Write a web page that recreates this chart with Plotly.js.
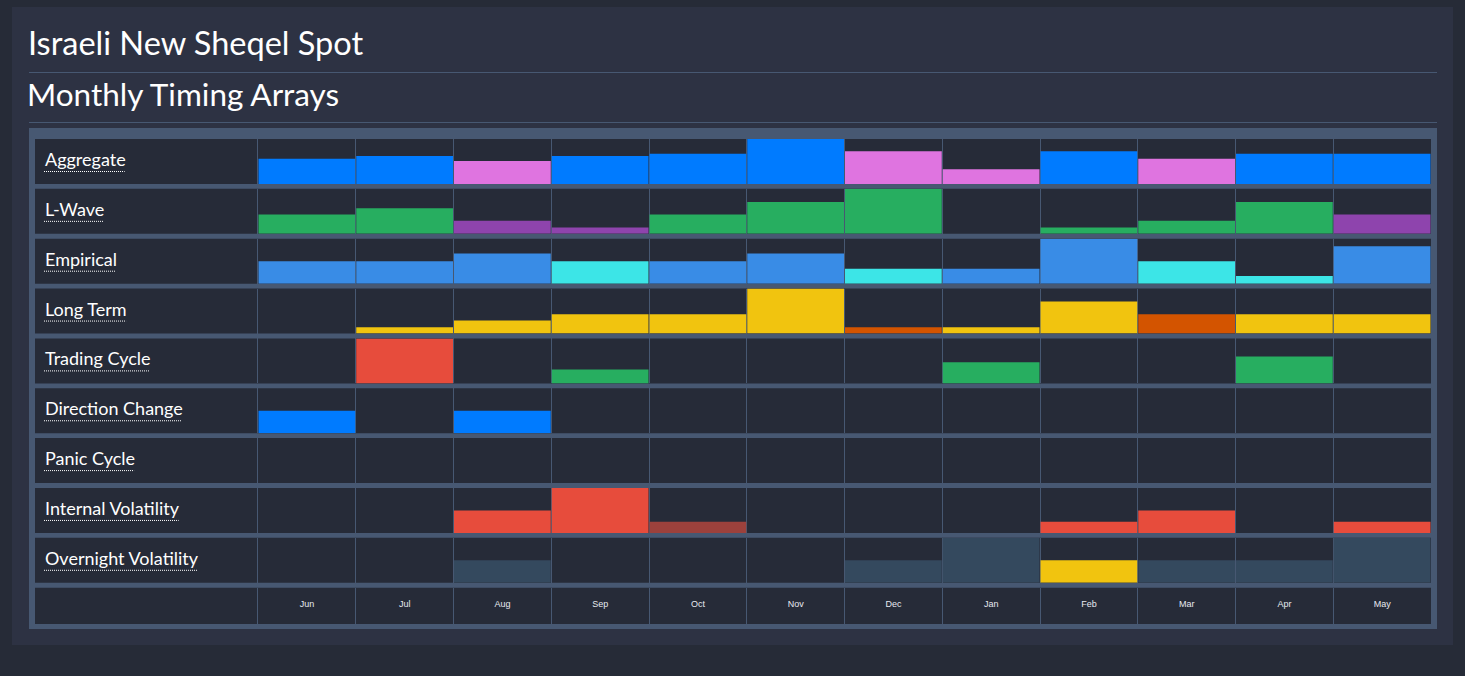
<!DOCTYPE html>
<html><head><meta charset="utf-8">
<script src="https://cdn.plot.ly/plotly-3.0.1.min.js"></script>
<style>html,body{margin:0;padding:0;background:#262b37;overflow:hidden}#chart{width:1465px;height:676px}</style>
</head><body><div id="chart"></div>
<script>
// ---------------- data ----------------
const months = ["Jun","Jul","Aug","Sep","Oct","Nov","Dec","Jan","Feb","Mar","Apr","May"];
const rowNames = ["Aggregate","L-Wave","Empirical","Long Term","Trading Cycle","Direction Change","Panic Cycle","Internal Volatility","Overnight Volatility"];
// signed strength per month (% of cell height); sign selects the second colour
const aggregate          = [56, 62, -51, 62, 67, 100, -73, -33, 73, -56, 67, 67];
const lWave              = [43, 57, -29, -14, 43, 71, 100, 0, 14, 29, 71, -43];
const empirical          = [50, 50, 67, -50, 50, 67, -33, 33, 100, -50, -17, 83];
const longTerm           = [0, 14, 29, 43, 43, 100, -14, 14, 71, -43, 43, 43];
const tradingCycle       = [0, -100, 0, 31, 0, 0, 0, 47, 0, 0, 60, 0];
const directionChange    = [50, 0, 50, 0, 0, 0, 0, 0, 0, 0, 0, 0];
const panicCycle         = [0, 0, 0, 0, 0, 0, 0, 0, 0, 0, 0, 0];
const internalVolatility = [0, 0, 50, 100, -25, 0, 0, 0, 25, 50, 0, 25];
const overnightVolatility= [0, 0, 50, 0, 0, 0, 50, 100, -50, 50, 50, 100];
const rowValues = [aggregate, lWave, empirical, longTerm, tradingCycle, directionChange, panicCycle, internalVolatility, overnightVolatility];

// ---------------- styles ----------------
const rowColors = [["#007bff","#df74e0"],["#27ae60","#8e44ad"],["#398ce6","#3ce5e7"],["#f1c40f","#d35400"],
                   ["#27ae60","#e74c3c"],["#007bff","#007bff"],["#e74c3c","#e74c3c"],["#e74c3c","#9c413c"],["#34495e","#f1c40f"]];
const W = 1465, H = 676;
const px = x => x / W, py = y => 1 - y / H;
const PAGE = "#262b37", PANEL = "#2d3243", FRAME = "#475872", CELL = "#262b38";
const FONT = "Lato, 'Open Sans', sans-serif";
const LABEL_SIZE = 18;
const ROW0 = 139, PITCH = 49.85, ROWH = 45;
const rowTop = i => ROW0 + PITCH * i;

const traces = [];
const layout = {
  width: W, height: H, margin: {l:0, r:0, t:0, b:0},
  paper_bgcolor: PAGE, plot_bgcolor: "rgba(0,0,0,0)",
  showlegend: false, bargap: 0.0102,
  font: {family: FONT, color: "#ffffff"},
  title: {text: "Israeli New Sheqel Spot", x: px(28), xanchor: "left", y: py(43.5), yanchor: "middle",
          font: {family: FONT, size: 32.5, color: "#ffffff"}},
  shapes: [], annotations: []
};

// x axis shared by all rows, anchored to the month-label row
layout.xaxis = {
  type: "category", categoryorder: "array", categoryarray: months,
  range: [-0.5, months.length - 0.5],
  domain: [px(258), px(1431)], anchor: "y10",
  tickson: "boundaries", showgrid: true, gridcolor: FRAME, gridwidth: 1,
  ticks: "", showline: false, zeroline: false, fixedrange: true,
  ticklabelposition: "inside", ticklabelstandoff: 12,
  tickfont: {family: "'Liberation Sans', Arial, sans-serif", size: 9, color: "#e6eaf0"}
};
const yCommon = {visible: true, showticklabels: false, showgrid: false, zeroline: false, ticks: "",
                 showline: true, linecolor: FRAME, linewidth: 1, anchor: "x", fixedrange: true};

// measure label widths for the dotted underline
const ctx = document.createElement("canvas").getContext("2d");
ctx.font = LABEL_SIZE + "px Lato";

rowValues.forEach((vals, i) => {
  const yName = i === 0 ? "y" : "y" + (i + 1);
  const axKey = i === 0 ? "yaxis" : "yaxis" + (i + 1);
  const top = rowTop(i), bot = top + ROWH;
  layout[axKey] = Object.assign({domain: [py(bot), py(top)], range: [0, 100]}, yCommon);
  traces.push({
    type: "bar", name: rowNames[i], x: months, y: vals.map(v => Math.abs(v)),
    xaxis: "x", yaxis: yName,
    marker: {color: vals.map(v => v < 0 ? rowColors[i][1] : rowColors[i][0]), line: {width: 0}},
    hovertemplate: rowNames[i] + " %{x}: %{y}<extra></extra>"
  });
  layout.annotations.push({
    xref: "paper", yref: "paper", x: px(43), y: py(top + 20), xanchor: "left", yanchor: "middle",
    text: rowNames[i], showarrow: false, font: {family: FONT, size: LABEL_SIZE, color: "#ffffff"}
  });
  const w = ctx.measureText(rowNames[i]).width;
  layout.shapes.push({type: "line", xref: "paper", yref: "paper", layer: "above",
    x0: px(44), x1: px(44 + w), y0: py(top + 32.5), y1: py(top + 32.5),
    line: {color: "#ffffff", width: 1, dash: "1px,1px"}});
});
// month-label row (an empty helper trace creates the subplot that carries the month tick labels)
const mTop = rowTop(9), mBot = 624;
layout.yaxis10 = Object.assign({domain: [py(mBot), py(mTop)], range: [0, 1]}, yCommon);
traces.push({type: "bar", x: months, y: months.map(() => null),
             xaxis: "x", yaxis: "y10", hoverinfo: "skip", showlegend: false});

// background panels
const bg = [
  {type: "rect", x0: px(12), x1: px(1453), y0: py(645), y1: py(7), fillcolor: PANEL},
  {type: "rect", x0: px(29), x1: px(1437), y0: py(629), y1: py(128), fillcolor: FRAME},
];
for (let i = 0; i < 9; i++) bg.push({type: "rect", x0: px(35), x1: px(1431), y0: py(rowTop(i) + ROWH), y1: py(rowTop(i)), fillcolor: CELL});
bg.push({type: "rect", x0: px(35), x1: px(1431), y0: py(mBot), y1: py(mTop), fillcolor: CELL});
bg.forEach(s => { s.xref = "paper"; s.yref = "paper"; s.layer = "below"; s.line = {width: 0}; });
// separators under the titles
[72.5, 122.5].forEach(y => bg.push({type: "line", xref: "paper", yref: "paper", layer: "below",
  x0: px(29), x1: px(1437), y0: py(y), y1: py(y), line: {color: FRAME, width: 1}}));
layout.shapes = bg.concat(layout.shapes);

layout.annotations.push({
  xref: "paper", yref: "paper", x: px(25), y: py(94), xanchor: "left", yanchor: "middle",
  text: "Monthly Timing Arrays", showarrow: false, font: {family: FONT, size: 31.5, color: "#ffffff"}
});

Plotly.newPlot("chart", traces, layout, {displayModeBar: false, staticPlot: true});
</script>
</body></html>
